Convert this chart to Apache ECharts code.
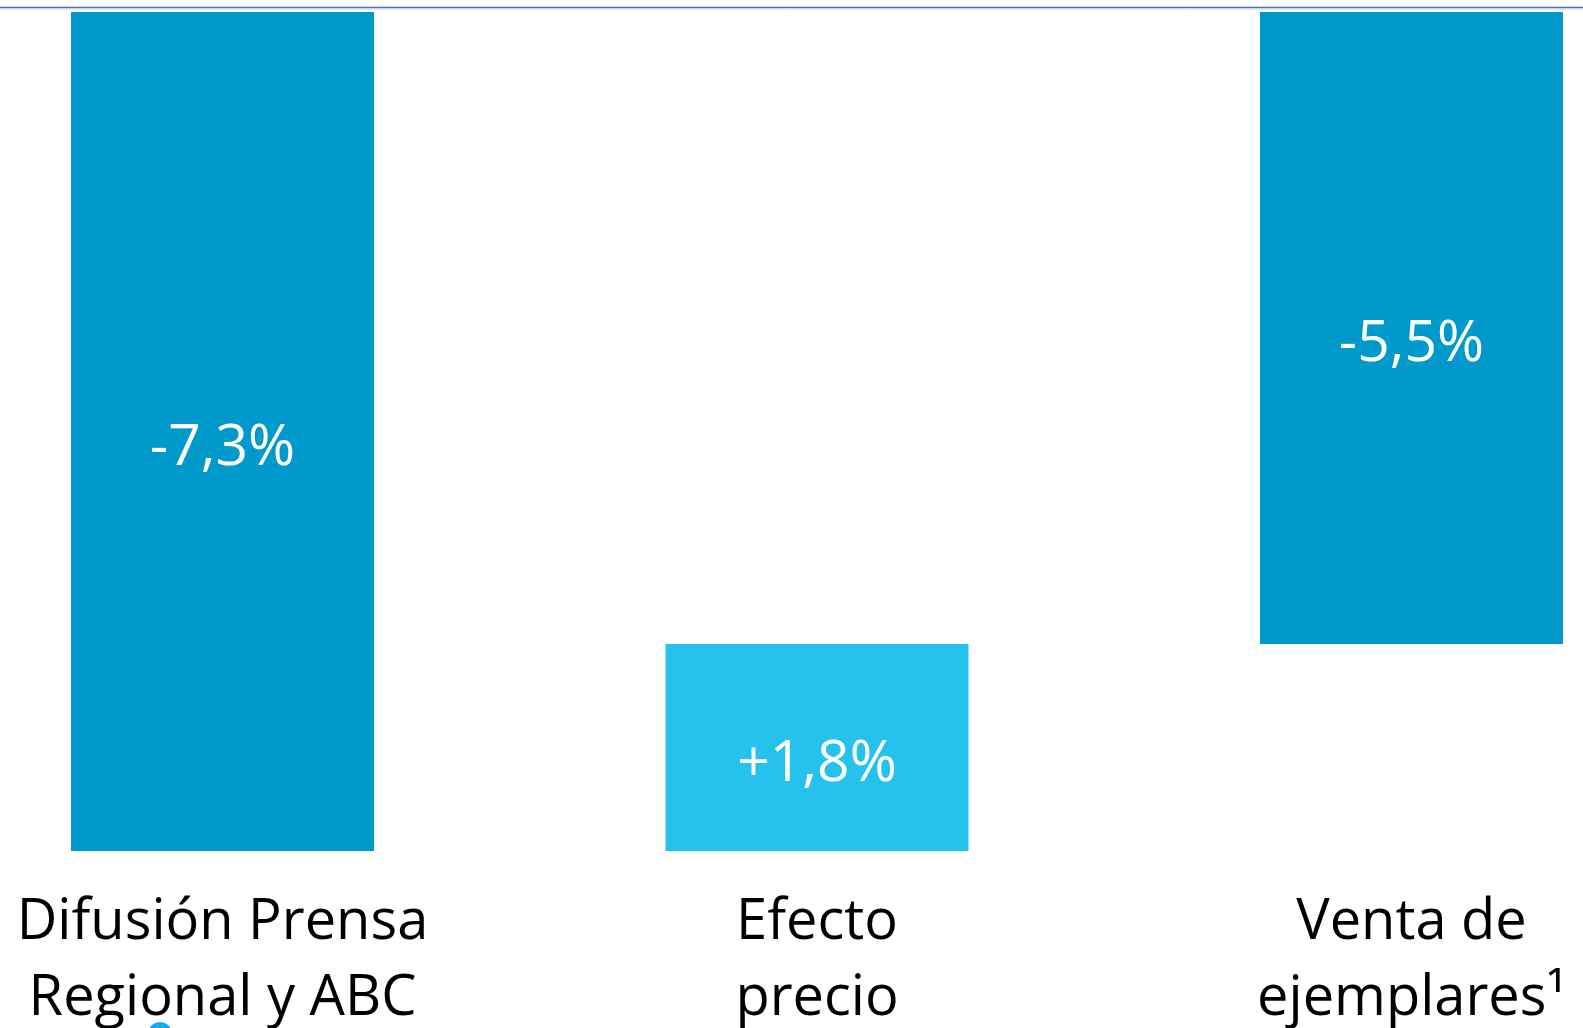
<!DOCTYPE html>
<html>
<head>
<meta charset="utf-8">
<script src="https://cdn.jsdelivr.net/npm/echarts@6/dist/echarts.min.js"></script>
<style>
html,body{margin:0;padding:0;background:#fff;}
#c{width:1583px;height:1028px;}
</style>
</head>
<body>
<div id="c"></div>
<script>
const categories = ['Difusión Prensa\nRegional y ABC', 'Efecto\nprecio', 'Venta de\nejemplares¹'];
const changes = [-7.3, 1.8, -5.5];
const kinds = ['total', 'delta', 'total'];
const valueLabels = ['-7,3%', '+1,8%', '-5,5%'];
const barColors = ['#0099CC', '#24C2EC', '#0099CC'];

// waterfall: base (invisible) + visible part
const base = [];
const visible = [];
let running = 0;
changes.forEach((v, i) => {
  if (kinds[i] === 'total') {
    base.push(0);
    visible.push(v);
    running = v;
  } else {
    const end = running + v;
    base.push(Math.max(running, end));
    visible.push(-Math.abs(v));
    running = end;
  }
});

const chart = echarts.init(document.getElementById('c'));
chart.setOption({
  animation: false,
  backgroundColor: '#ffffff',
  grid: { left: 222.5, right: 171.5, top: 12, bottom: 177, containLabel: false, outerBoundsMode: 'none' },
  xAxis: {
    type: 'category',
    data: categories,
    boundaryGap: false,
    axisLine: { show: false },
    axisTick: { show: false },
    splitLine: { show: false },
    axisLabel: {
      fontFamily: 'Open Sans',
      fontSize: 56,
      lineHeight: 76,
      color: '#000000',
      margin: 34,
      interval: 0
    }
  },
  yAxis: {
    type: 'value',
    min: -7.3,
    max: 0,
    show: false,
    splitLine: { show: false }
  },
  series: [
    {
      type: 'bar',
      stack: 'w',
      data: base,
      barWidth: 303,
      clip: false,
      itemStyle: { color: 'rgba(0,0,0,0)' },
      silent: true
    },
    {
      type: 'bar',
      stack: 'w',
      barWidth: 303,
      clip: false,
      data: visible.map((v, i) => ({ value: v, itemStyle: { color: barColors[i] } })),
      label: {
        show: true,
        position: 'inside',
        offset: [0, 17],
        formatter: p => valueLabels[p.dataIndex],
        fontFamily: 'Open Sans',
        fontSize: 57,
        color: '#ffffff'
      }
    }
  ],
  graphic: [
    { type: 'line', shape: { x1: 0, y1: 7.5, x2: 1583, y2: 7.5 }, style: { stroke: '#4a72c4', lineWidth: 1.5 } },
    { type: 'line', shape: { x1: 0, y1: 9, x2: 1583, y2: 9 }, style: { stroke: '#c5d3ef', lineWidth: 1 } },
    { type: 'circle', shape: { cx: 160, cy: 1034, r: 12 }, style: { fill: '#12AEEA' } }
  ]
});
</script>
</body>
</html>
